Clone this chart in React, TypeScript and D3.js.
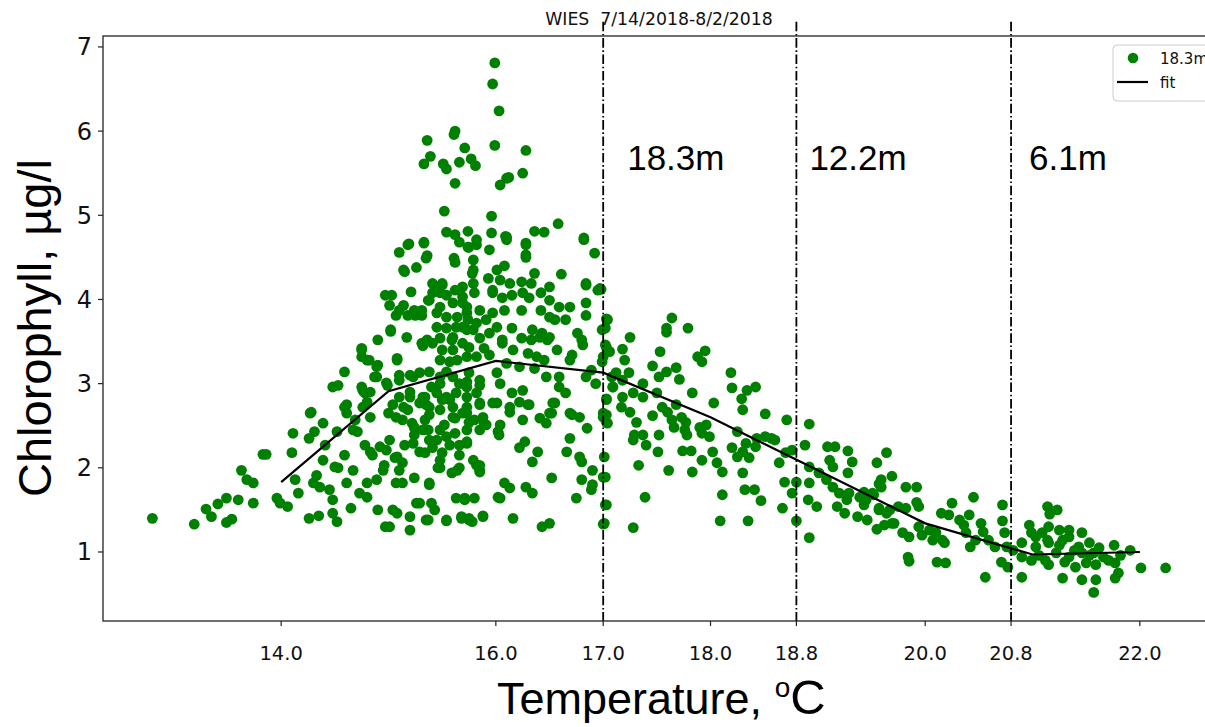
import React from 'react';
import * as d3 from 'd3';

// ---------- data ----------
const chartTitle = 'WIES  7/14/2018-8/2/2018';
const seriesName = '18.3m';
const fitName = 'fit';
const xTickValues = [14.0, 16.0, 17.0, 18.0, 18.8, 20.0, 20.8, 22.0];
const yTickValues = [1, 2, 3, 4, 5, 6, 7];
const depthBreaks = [17.0, 18.8, 20.8];
const depthLabels = ['18.3m', '12.2m', '6.1m'];
const fitTemperature = [14, 15, 16, 17, 18, 19, 20, 21, 22];
const fitChlorophyll = [1.83, 2.91, 3.27, 3.13, 2.6, 1.97, 1.34, 0.97, 1.0];

// [temperature °C, chlorophyll µg/l]
const samples: [number, number][] = [
  [12.80,1.40],[13.19,1.33],[13.30,1.51],[13.35,1.42],[13.41,1.57],[13.49,1.64],[13.49,1.35],[13.54,1.39],[13.60,1.62],[13.63,1.97],
  [13.68,1.86],[13.74,1.82],[13.74,1.58],[13.83,2.16],[13.86,2.16],[13.96,1.64],[13.99,1.58],[14.06,1.54],[14.11,2.41],[14.10,2.18],
  [14.13,1.86],[14.16,1.70],[14.26,1.40],[14.35,1.43],[14.27,2.65],[14.26,2.35],[14.31,2.43],[14.39,2.53],[14.41,2.27],[14.39,2.09],
  [14.33,1.91],[14.30,1.82],[14.36,1.77],[14.45,1.74],[14.48,1.62],[14.48,1.46],[14.52,1.36],[14.50,2.01],[14.53,2.00],[14.52,2.43],
  [14.59,3.14],[14.59,2.72],[14.61,2.65],[14.61,1.82],[14.65,1.52],[14.67,2.45],[14.67,1.97],[14.73,1.70],[14.71,2.43],[14.76,2.92],
  [14.75,3.40],[14.80,3.28],[14.76,2.72],[14.83,2.60],[14.83,2.19],[14.80,1.82],[14.80,1.65],[14.89,3.20],[14.90,3.52],[14.89,3.08],
  [14.89,1.86],[14.90,1.50],[14.92,2.25],[14.98,2.21],[14.95,1.97],[14.97,1.30],[15.01,1.30],[15.04,1.50],[14.98,3.01],[15.00,2.65],
  [14.97,4.05],[15.03,4.05],[15.02,3.64],[15.07,2.60],[15.08,3.28],[15.08,2.13],[15.07,1.82],[15.08,1.46],[15.13,2.06],[15.13,1.82],
  [15.14,3.93],[15.14,4.35],[15.20,1.26],[15.20,1.42],[15.18,2.69],[15.20,2.84],[15.23,3.08],[15.22,2.53],[15.24,2.39],[15.23,2.29],
  [15.26,4.38],[15.25,3.81],[15.31,3.87],[15.31,3.48],[15.26,1.58],[15.34,2.84],[15.37,2.45],[15.38,1.82],[15.40,1.58],[15.37,1.38],
  [15.35,4.49],[15.37,3.99],[15.41,4.19],[15.50,4.19],[15.48,4.08],[15.54,1.38],[15.46,2.00],[15.45,2.33],[15.48,3.08],[15.57,2.81],
  [15.60,2.60],[15.60,3.55],[15.62,4.44],[15.64,1.97],[15.68,1.42],[15.75,1.38],[15.63,1.64],[15.71,1.64],[15.80,1.64],[15.88,1.42],
  [15.82,2.03],[15.85,1.97],[15.73,2.29],[15.73,2.45],[15.80,2.57],[15.89,2.53],[15.73,3.02],[15.85,2.98],[15.82,3.32],[15.94,3.60],
  [15.78,4.31],[15.97,4.11],[16.02,2.43],[16.02,1.65],[15.73,2.72],
  [15.13,2.57],[15.24,2.48],[15.34,2.57],[15.52,2.51],[15.62,2.41],[15.38,2.33],[15.57,2.27],[15.29,2.19],[15.15,2.27],[15.01,2.33],
  [15.06,2.12],[15.48,2.09],[15.66,2.15],[14.96,2.03],[15.10,1.97],[15.24,1.88],[14.85,2.15],[14.78,2.27],[14.69,2.57],[14.59,2.15],
  [15.10,4.56],[15.18,4.65],[15.33,4.67],[15.36,4.52],[15.15,4.33],[15.66,4.68],[15.21,4.09],[15.01,3.93],[15.10,3.87],[15.07,3.81],
  [15.18,3.81],[15.24,3.87],[15.31,3.81],[15.38,3.99],[15.45,4.15],[15.50,4.17],[15.41,4.08],[15.54,4.05],[15.62,4.11],[15.69,4.15],
  [15.48,3.91],[15.60,3.96],[15.69,3.96],[15.45,3.84],[15.54,3.79],[15.64,3.79],[15.73,3.84],[15.45,3.67],[15.54,3.66],[15.63,3.67],
  [15.73,3.64],[15.02,3.62],[15.17,3.55],[15.36,3.52],[15.41,3.48],[15.48,3.54],[15.59,3.52],[15.69,3.48],[15.32,3.45],[15.50,3.40],
  [15.60,3.40],[14.75,3.42],[14.75,3.32],[14.82,3.28],[15.08,3.30],[14.90,3.22],[15.48,3.28],[15.57,3.26],[15.64,3.28],[15.10,3.10],
  [15.20,3.10],[15.29,3.13],[15.38,3.14],[15.54,3.14],[15.60,3.08],[14.48,2.96],[14.53,2.98],[14.75,2.96],[14.87,3.08],[14.99,2.98],
  [15.10,3.04],[15.40,2.96],[15.48,3.00],[15.66,3.00],[14.78,2.89],[14.83,2.90],[15.10,2.84],[15.20,2.90],[15.32,2.84],[15.45,2.89],
  [15.54,2.84],[15.63,2.89],[15.73,2.84],[14.28,2.66],[14.61,2.75],[14.80,2.78],[15.04,2.75],[15.14,2.72],[15.29,2.77],[15.38,2.72],
  [15.48,2.69],[15.60,2.72],[15.69,2.65],
  [15.74,4.62],[15.82,4.65],[15.94,4.59],[16.10,4.71],[16.28,4.65],[16.28,4.53],[15.79,4.47],[15.79,4.35],[16.08,4.40],[16.36,4.31],
  [16.61,4.30],[16.82,4.71],[16.92,4.55],[15.79,4.19],[15.93,4.25],[16.01,4.35],[16.04,4.23],[16.13,4.19],[16.24,4.21],[16.33,4.19],
  [16.50,4.15],[16.84,4.19],[16.95,4.11],[15.69,4.03],[15.80,4.08],[15.97,4.08],[16.06,4.02],[16.15,4.05],[16.25,4.08],[16.31,4.02],
  [16.42,4.08],[16.50,3.99],[16.59,3.91],[16.69,3.91],[16.84,3.96],[15.73,3.91],[15.85,3.87],[15.97,3.84],[16.08,3.87],[16.24,3.87],
  [16.42,3.87],[16.50,3.79],[16.55,3.76],[16.65,3.76],[16.84,3.81],[17.04,3.76],[15.74,3.76],[15.82,3.72],[15.91,3.76],[15.69,3.67],
  [15.79,3.64],[16.01,3.67],[16.15,3.66],[16.34,3.64],[16.43,3.60],[16.50,3.55],[16.76,3.60],[16.99,3.64],[15.85,3.54],[16.06,3.52],
  [16.24,3.54],[16.33,3.52],[16.41,3.55],[16.48,3.52],[16.80,3.52],[15.75,3.43],[15.89,3.42],[16.06,3.48],[16.16,3.40],[16.30,3.36],
  [16.57,3.40],[16.71,3.34],[16.81,3.46],[17.03,3.43],[15.73,3.32],[15.94,3.34],[16.38,3.32],[16.45,3.28],[16.69,3.28],[16.99,3.26],
  [16.22,3.20],[16.36,3.18],[16.10,3.24],[16.89,3.16],[17.12,3.13],[15.75,3.13],[15.85,3.04],[16.01,3.13],[16.47,3.08],[16.59,3.08],
  [16.84,3.08],[16.93,3.00],[17.09,2.96],[15.73,2.96],[15.82,2.89],[16.04,3.00],[16.15,2.89],[16.25,2.92],[16.59,2.96],[16.65,2.89],
  [17.03,2.81],[15.85,2.77],[15.97,2.77],[16.13,2.72],[16.30,2.75],[16.53,2.77],[16.69,2.65],[15.73,2.65],[16.13,2.66],[16.50,2.65],
  [17.00,2.65],
  [15.35,2.75],[15.50,2.81],[15.85,2.75],[16.01,2.77],[16.22,2.78],[16.31,2.75],[16.55,2.77],[15.38,2.63],[15.62,2.59],[15.75,2.54],
  [15.88,2.60],[16.25,2.57],[16.41,2.59],[16.52,2.65],[16.47,2.53],[16.71,2.63],[16.78,2.60],[16.85,2.47],[17.00,2.60],[17.03,2.54],
  [15.32,2.45],[15.48,2.45],[15.54,2.37],[15.85,2.45],[15.91,2.51],[16.04,2.51],[16.03,2.39],[16.27,2.31],[16.22,2.24],[16.39,2.19],
  [16.69,2.35],[15.34,2.18],[15.41,2.24],[15.50,2.18],[15.66,2.27],[15.73,2.31],[15.79,2.09],[15.85,2.03],[15.85,1.95],[15.48,2.00],
  [15.59,1.94],[15.66,2.00],[16.34,2.07],[16.66,2.19],[16.78,2.13],[16.80,2.07],[16.90,1.97],[17.01,2.13],[15.38,1.80],[16.08,1.82],
  [16.13,1.76],[16.28,1.77],[16.34,1.70],[16.52,1.88],[16.80,1.86],[16.90,1.80],[16.89,1.74],[17.00,1.89],[15.29,1.58],[15.43,1.50],
  [15.71,1.62],[16.04,1.64],[16.75,1.64],[17.03,1.56],[15.35,1.38],[15.54,1.37],[15.68,1.40],[15.75,1.40],[15.78,1.36],[15.88,1.43],
  [16.16,1.40],[16.43,1.30],[16.50,1.34],[17.01,1.34],
  [15.99,6.81],[15.97,6.56],[16.03,6.24],[15.62,6.00],[15.61,5.96],[15.36,5.89],[15.71,5.80],[15.99,5.83],[15.39,5.70],[15.33,5.61],
  [15.51,5.61],[15.54,5.55],[15.66,5.63],[15.77,5.67],[15.81,5.59],[15.62,5.38],[16.04,5.36],[16.10,5.44],[15.52,5.05],[15.96,4.99],
  [15.54,4.80],[15.62,4.77],[15.74,4.81],[15.96,4.79],[16.09,4.75],[15.33,4.68],[15.19,4.66],[15.82,4.71],[15.75,4.62],[15.61,4.49],
  [16.28,5.77],[16.25,5.50],[16.12,5.45],[16.10,4.74],[16.36,4.81],[16.45,4.80],[16.58,4.90],[16.82,4.73],[16.28,4.67],[16.28,4.50],
  [16.84,4.17],[16.97,4.13],[17.03,3.77],[17.64,3.78],[17.59,3.66],[17.79,3.66],
  [16.98,4.12],[17.02,3.66],[17.02,3.46],[17.06,3.38],[17.00,3.32],[17.18,3.41],[17.20,3.28],[17.25,3.55],[17.53,3.38],[17.59,3.61],
  [17.88,3.32],[17.95,3.39],[17.92,3.26],[17.08,3.08],[17.24,3.13],[17.09,2.96],[17.18,3.04],[17.37,3.00],[17.46,3.21],[17.52,3.08],
  [17.59,3.14],[17.68,3.19],[17.71,3.05],[17.03,2.82],[17.18,2.84],[17.28,2.89],[17.17,2.72],[17.25,2.66],[17.37,2.84],[17.50,2.89],
  [17.55,2.72],[17.68,2.75],[17.60,2.66],[17.83,2.89],[18.03,2.77],[18.19,3.13],[18.20,2.95],[18.34,2.92],[18.42,2.96],[18.29,2.82],
  [18.30,2.69],[18.51,2.64],[17.03,2.63],[17.04,2.53],[17.31,2.54],[17.46,2.62],[17.64,2.57],[17.73,2.60],[17.77,2.54],[17.90,2.48],
  [17.96,2.51],[17.66,2.48],[17.76,2.45],[17.29,2.39],[17.37,2.39],[17.52,2.39],[17.78,2.39],[17.92,2.41],[17.99,2.37],[18.25,2.43],
  [17.28,2.33],[17.40,2.27],[17.51,2.19],[17.74,2.20],[17.82,2.20],[18.02,2.19],[18.20,2.24],[18.30,2.19],[18.33,2.29],[18.42,2.25],
  [18.43,2.35],[18.51,2.37],[18.57,2.35],[18.60,2.33],[18.71,2.57],[18.36,2.12],[18.25,2.13],[17.92,2.09],[18.06,2.06],[18.11,1.95],
  [17.33,2.03],[17.61,1.97],[17.83,1.95],[18.30,1.94],[18.64,2.06],[18.70,2.18],[18.76,2.21],[18.69,1.83],[18.80,1.83],[18.76,1.70],
  [17.02,1.89],[18.32,1.74],[18.41,1.74],[18.47,1.61],[18.11,1.68],[18.67,1.52],[17.39,1.65],[17.02,1.56],[17.00,1.33],[17.28,1.29],
  [18.09,1.37],[18.35,1.37],[18.80,1.37],[18.92,1.17],
  [18.88,2.27],[18.92,2.52],[19.09,2.25],[19.16,2.25],[19.28,2.20],[19.32,2.07],[19.11,2.09],[19.14,2.01],[19.28,1.94],[19.55,2.06],
  [19.64,2.18],[19.69,1.90],[19.59,1.86],[19.57,1.81],[18.92,2.01],[19.01,1.94],[19.08,1.86],[19.14,1.77],[19.20,1.70],[19.27,1.62],
  [19.29,1.70],[19.39,1.65],[19.45,1.62],[19.51,1.70],[19.57,1.50],[19.64,1.46],[19.69,1.34],[18.92,1.82],[18.91,1.62],[18.99,1.54],
  [19.18,1.54],[19.25,1.46],[19.37,1.42],[19.46,1.38],[19.55,1.27],
  [19.59,1.77],[19.82,1.77],[19.92,1.77],[19.43,1.71],[19.52,1.68],[19.43,1.56],[19.57,1.52],[19.67,1.50],[19.75,1.54],[19.82,1.52],
  [19.92,1.59],[19.94,1.54],[19.62,1.32],[19.71,1.34],[19.79,1.23],[19.85,1.18],[19.84,0.94],[19.85,0.89],[19.94,1.30],[19.97,1.20],
  [20.04,1.26],[20.10,1.23],[20.16,1.14],[20.07,1.14],[20.11,0.88],[20.19,0.87],[20.15,1.46],[20.22,1.44],[20.25,1.58],[20.32,1.38],
  [20.18,1.11],[20.36,1.32],[20.41,1.44],[20.45,1.65],[20.38,1.23],[20.47,1.14],[20.42,1.06],[20.52,1.34],[20.54,1.24],[20.59,1.14],
  [20.65,1.06],[20.56,0.70],[20.72,1.56],[20.72,1.37],[20.74,1.23],[20.76,1.06],[20.71,0.88],[20.77,0.82],[20.82,1.02],[20.90,0.70],
  [20.97,1.32],[20.99,1.23],[21.03,1.06],[21.14,1.54],[21.16,1.45],[21.23,1.50],[21.09,1.23],[21.15,1.11],[21.22,0.99],[21.15,0.85],
  [21.28,1.14],[21.34,1.18],[21.43,1.06],[21.46,0.99],[21.50,0.87],[21.28,0.69],[21.40,0.82],[21.46,0.67],[21.57,0.52],[21.59,0.67],
  [21.57,0.99],[21.59,0.85],[21.66,0.94],[21.77,0.87],[21.80,0.75],[21.77,0.69],[21.82,0.96],[21.91,1.02],[22.01,0.81],[22.24,0.81],
  [21.34,1.26],[21.46,1.23],[21.53,1.11],[21.15,1.30],[21.25,1.26],[21.03,1.18],[20.90,0.94],[20.99,0.90],[21.12,0.90],[21.34,0.94],
  [21.14,1.14],[20.90,1.11],[21.25,1.08],[21.39,1.02],[21.53,0.96],[21.62,1.05],[21.71,0.90],[21.30,0.88],[21.06,0.96],[21.76,1.08],
];

// ---------- layout ----------
const W = 1205;
const H = 727;
const plot = { left: 103, right: 1215, top: 36, bottom: 621 };
const xDomain: [number, number] = [12.34, 22.7];
const yDomain: [number, number] = [0.18, 7.13];
const breakTop = 7.3;
const labelOffsets = [24, 13, 18];
const labelLevel = 5.54;
const green = '#008000';
const tickFont = 'DejaVu Sans, sans-serif';
const labelFont = 'Liberation Sans, Arial, sans-serif';

export default function App() {
  const x = d3.scaleLinear().domain(xDomain).range([plot.left, plot.right]);
  const y = d3.scaleLinear().domain(yDomain).range([plot.bottom, plot.top]);
  const fitData = fitTemperature.map((t, i) => [t, fitChlorophyll[i]] as [number, number]);
  const fitPath = d3.line<[number, number]>().x(d => x(d[0])).y(d => y(d[1]))(fitData) || '';
  const fmt = d3.format('.1f');

  return (
    <svg width={W} height={H} style={{ position: 'absolute', left: 0, top: 0, background: '#fff' }}>
      <rect x={0} y={0} width={W} height={H} fill="#fff" />
      <text x={659} y={25} textAnchor="middle" fontFamily={tickFont} fontSize={17.3} fill="#111" style={{ whiteSpace: 'pre' }}>
        {chartTitle}
      </text>

      {/* points */}
      <g>
        {samples.map((d, i) => (
          <circle key={i} cx={x(d[0])} cy={y(d[1])} r={5.4} fill={green} />
        ))}
      </g>

      {/* fit */}
      <path d={fitPath} fill="none" stroke="#000" strokeWidth={2.2} />

      {/* depth breaks */}
      {depthBreaks.map((b, i) => (
        <g key={i}>
          <line x1={x(b)} x2={x(b)} y1={y(breakTop)} y2={y(yDomain[0])} stroke="#000" strokeWidth={1.8} strokeDasharray="9.6,2.6,1.6,2.6" />
          <text x={x(b) + labelOffsets[i]} y={y(labelLevel)} fontFamily={labelFont} fontSize={35} fill="#000">
            {depthLabels[i]}
          </text>
        </g>
      ))}

      {/* frame */}
      <rect x={plot.left} y={plot.top} width={plot.right - plot.left} height={plot.bottom - plot.top} fill="none" stroke="#222" strokeWidth={1.3} />

      {/* y ticks */}
      {yTickValues.map(v => (
        <g key={v}>
          <line x1={plot.left - 5} x2={plot.left} y1={y(v)} y2={y(v)} stroke="#222" strokeWidth={1.2} />
          <text x={92} y={y(v)} dy="0.35em" textAnchor="end" fontFamily={tickFont} fontSize={24} fill="#111">
            {v}
          </text>
        </g>
      ))}

      {/* x ticks */}
      {xTickValues.map(v => (
        <g key={v}>
          <line x1={x(v)} x2={x(v)} y1={plot.bottom} y2={plot.bottom + 5} stroke="#222" strokeWidth={1.2} />
          <text x={x(v)} y={plot.bottom + 39} textAnchor="middle" fontFamily={tickFont} fontSize={19.5} fill="#111">
            {fmt(v)}
          </text>
        </g>
      ))}

      {/* axis labels */}
      <text transform={`translate(51,328) rotate(-90)`} textAnchor="middle" fontFamily={labelFont} fontSize={47} fill="#000">
        Chlorophyll, µg/l
      </text>
      <text x={497} y={714} fontFamily={labelFont} fontSize={45} fill="#000" style={{ whiteSpace: 'pre' }}>
        {'Temperature, '}
        <tspan fontSize={28} dy={-17}>o</tspan>
        <tspan dy={17} fontSize={49}>C</tspan>
      </text>

      {/* legend */}
      <g>
        <rect x={1113} y={45} width={130} height={56} rx={4} fill="#fff" stroke="#ccc" strokeWidth={1} />
        <circle cx={1133} cy={58} r={5.3} fill={green} />
        <text x={1160} y={64} fontFamily={tickFont} fontSize={15} fill="#111">{seriesName}</text>
        <line x1={1117} x2={1148} y1={82} y2={82} stroke="#000" strokeWidth={2.2} />
        <text x={1160} y={88} fontFamily={tickFont} fontSize={15} fill="#111">{fitName}</text>
      </g>
    </svg>
  );
}
